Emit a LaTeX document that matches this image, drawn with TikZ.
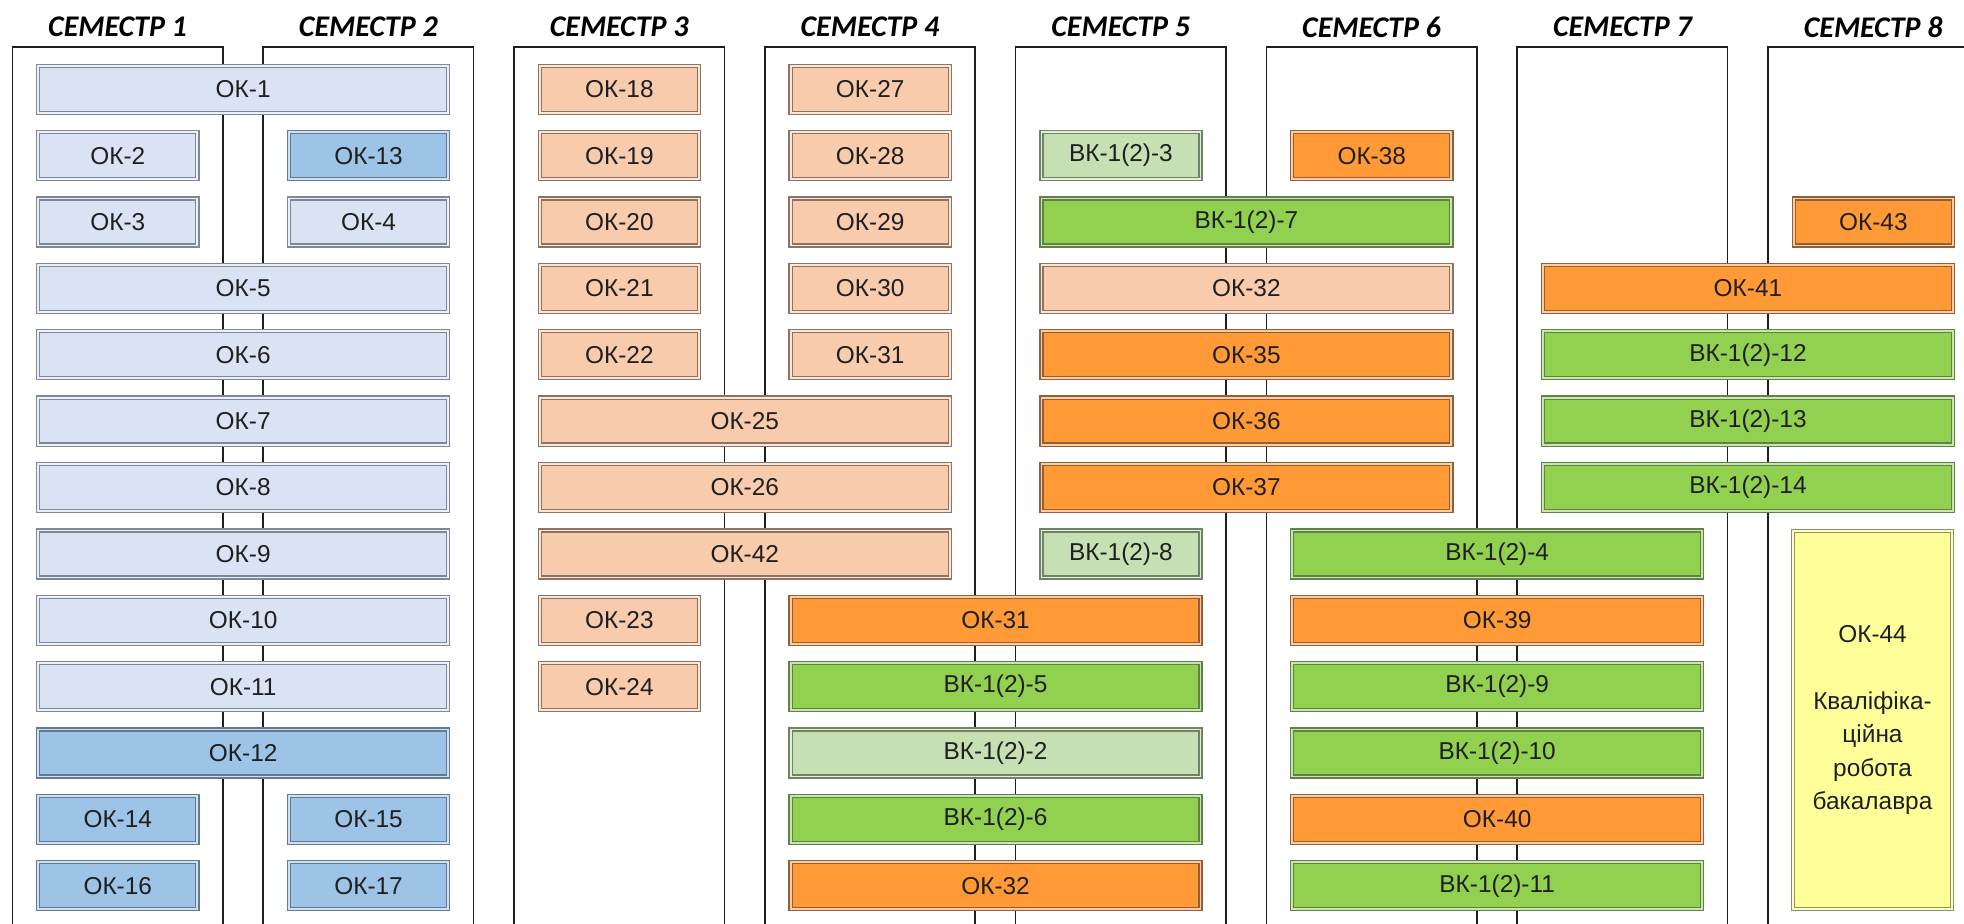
\documentclass[tikz,border=0pt]{standalone}
\usepackage{fontspec}
\setmainfont{Liberation Sans}
\newfontfamily\hdrfont{Carlito}
\definecolor{lbF}{HTML}{DAE3F3}\definecolor{lbD}{HTML}{808896}
\definecolor{mbF}{HTML}{9DC3E6}\definecolor{mbD}{HTML}{637A90}
\definecolor{peF}{HTML}{F8CBAD}\definecolor{peD}{HTML}{8C7464}
\definecolor{orF}{HTML}{FF9A36}\definecolor{orD}{HTML}{8E6040}
\definecolor{grF}{HTML}{92D050}\definecolor{grD}{HTML}{62804A}
\definecolor{lgF}{HTML}{C6E0B4}\definecolor{lgD}{HTML}{728266}
\definecolor{yeF}{HTML}{FFFF99}\definecolor{yeD}{HTML}{909066}
\definecolor{frameC}{HTML}{1E1E1E}
\tikzset{
  cbase/.style={rectangle, inner sep=0pt, minimum height=23.5pt, line width=0.65pt,
     double distance=0.9pt, font=\fontsize{12.2}{14.6}\selectfont, text=black!88},
  lbx/.style={fill=lbF, draw=lbD, double=lbF!50!white},
  mbx/.style={fill=mbF, draw=mbD, double=mbF!50!white},
  pex/.style={fill=peF, draw=peD, double=peF!50!white},
  orx/.style={fill=orF, draw=orD, double=orF!50!white},
  grx/.style={fill=grF, draw=grD, double=grF!50!white},
  lgx/.style={fill=lgF, draw=lgD, double=lgF!50!white},
  yex/.style={fill=yeF, draw=yeD, double=yeF!50!white},
  colframe/.style={draw=frameC, line width=0.8pt},
  hdr/.style={font=\hdrfont\bfseries\itshape\fontsize{15}{18}\selectfont, inner sep=0pt}
}
\newcommand\cbox[6]{%
  \pgfmathsetmacro\xl{12.3+250.8*(#2-1)+24.4}%
  \pgfmathsetmacro\xr{12.3+250.8*(#3-1)+186.5}%
  \pgfmathsetmacro\yc{89.3+66.37*(#4-1)}%
  \pgfmathsetmacro\bw{(\xr-\xl-3)*0.5}%
  \pgfmathsetmacro\xc{(\xl+\xr)/2}%
  \node[cbase,#5,minimum width=\bw pt] (#1) at (\xc,\yc) {#6};%
}
\begin{document}
\begin{tikzpicture}[x=0.5pt,y=-0.5pt]
\useasboundingbox (0,0) rectangle (1964,923);
% column frames and headers
\foreach \c in {1,...,8}{
  \pgfmathsetmacro\L{12.3+250.8*(\c-1)}
  \pgfmathsetmacro\R{min(\L+210.5,1966)}
  \pgfmathsetmacro\C{\L+105.25}
  \draw[colframe] (\L,930) -- (\L,46.7) -- (\R,46.7) -- (\R,930);
  \node[hdr] (h\c) at (\C,27) {СЕМЕСТР \c};
}
% row 1
\cbox{ok1}{1}{2}{1}{lbx}{ОК-1}
\cbox{ok18}{3}{3}{1}{pex}{ОК-18}
\cbox{ok27}{4}{4}{1}{pex}{ОК-27}
% row 2
\cbox{ok2}{1}{1}{2}{lbx}{ОК-2}
\cbox{ok13}{2}{2}{2}{mbx}{ОК-13}
\cbox{ok19}{3}{3}{2}{pex}{ОК-19}
\cbox{ok28}{4}{4}{2}{pex}{ОК-28}
\cbox{vk3}{5}{5}{2}{lgx}{ВК-1(2)-3}
\cbox{ok38}{6}{6}{2}{orx}{ОК-38}
% row 3
\cbox{ok3}{1}{1}{3}{lbx}{ОК-3}
\cbox{ok4}{2}{2}{3}{lbx}{ОК-4}
\cbox{ok20}{3}{3}{3}{pex}{ОК-20}
\cbox{ok29}{4}{4}{3}{pex}{ОК-29}
\cbox{vk7}{5}{6}{3}{grx}{ВК-1(2)-7}
\cbox{ok43}{8}{8}{3}{orx}{ОК-43}
% row 4
\cbox{ok5}{1}{2}{4}{lbx}{ОК-5}
\cbox{ok21}{3}{3}{4}{pex}{ОК-21}
\cbox{ok30}{4}{4}{4}{pex}{ОК-30}
\cbox{ok32a}{5}{6}{4}{pex}{ОК-32}
\cbox{ok41}{7}{8}{4}{orx}{ОК-41}
% row 5
\cbox{ok6}{1}{2}{5}{lbx}{ОК-6}
\cbox{ok22}{3}{3}{5}{pex}{ОК-22}
\cbox{ok31a}{4}{4}{5}{pex}{ОК-31}
\cbox{ok35}{5}{6}{5}{orx}{ОК-35}
\cbox{vk12}{7}{8}{5}{grx}{ВК-1(2)-12}
% row 6
\cbox{ok7}{1}{2}{6}{lbx}{ОК-7}
\cbox{ok25}{3}{4}{6}{pex}{ОК-25}
\cbox{ok36}{5}{6}{6}{orx}{ОК-36}
\cbox{vk13}{7}{8}{6}{grx}{ВК-1(2)-13}
% row 7
\cbox{ok8}{1}{2}{7}{lbx}{ОК-8}
\cbox{ok26}{3}{4}{7}{pex}{ОК-26}
\cbox{ok37}{5}{6}{7}{orx}{ОК-37}
\cbox{vk14}{7}{8}{7}{grx}{ВК-1(2)-14}
% row 8
\cbox{ok9}{1}{2}{8}{lbx}{ОК-9}
\cbox{ok42}{3}{4}{8}{pex}{ОК-42}
\cbox{vk8}{5}{5}{8}{lgx}{ВК-1(2)-8}
\cbox{vk4}{6}{7}{8}{grx}{ВК-1(2)-4}
% row 9
\cbox{ok10}{1}{2}{9}{lbx}{ОК-10}
\cbox{ok23}{3}{3}{9}{pex}{ОК-23}
\cbox{ok31b}{4}{5}{9}{orx}{ОК-31}
\cbox{ok39}{6}{7}{9}{orx}{ОК-39}
% row 10
\cbox{ok11}{1}{2}{10}{lbx}{ОК-11}
\cbox{ok24}{3}{3}{10}{pex}{ОК-24}
\cbox{vk5}{4}{5}{10}{grx}{ВК-1(2)-5}
\cbox{vk9}{6}{7}{10}{grx}{ВК-1(2)-9}
% row 11
\cbox{ok12}{1}{2}{11}{mbx}{ОК-12}
\cbox{vk2}{4}{5}{11}{lgx}{ВК-1(2)-2}
\cbox{vk10}{6}{7}{11}{grx}{ВК-1(2)-10}
% row 12
\cbox{ok14}{1}{1}{12}{mbx}{ОК-14}
\cbox{ok15}{2}{2}{12}{mbx}{ОК-15}
\cbox{vk6}{4}{5}{12}{grx}{ВК-1(2)-6}
\cbox{ok40}{6}{7}{12}{orx}{ОК-40}
% row 13
\cbox{ok16}{1}{1}{13}{mbx}{ОК-16}
\cbox{ok17}{2}{2}{13}{mbx}{ОК-17}
\cbox{ok32b}{4}{5}{13}{orx}{ОК-32}
\cbox{vk11}{6}{7}{13}{grx}{ВК-1(2)-11}
% OK-44 tall box
\node[cbase,yex,minimum width=79.5pt,minimum height=189pt,align=center,
      font=\fontsize{12.2}{16.75}\selectfont] (ok44) at (1872.5,720)
  {ОК-44\\[16.75pt]Кваліфіка-\\ційна\\робота\\бакалавра};
\end{tikzpicture}
\end{document}
